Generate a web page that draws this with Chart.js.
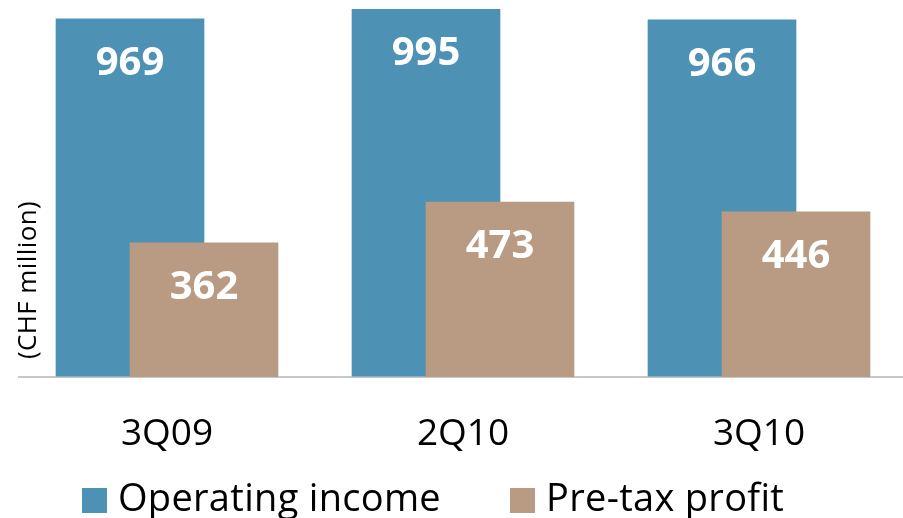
<!DOCTYPE html>
<html>
<head>
<meta charset="utf-8">
<script src="https://cdn.jsdelivr.net/npm/chart.js@4/dist/chart.umd.min.js"></script>
<style>
  html, body { margin: 0; padding: 0; background: #fff; overflow: hidden; }
  #wrap { width: 907px; height: 518px; }
</style>
</head>
<body>
<div id="wrap"><canvas id="chart"></canvas></div>
<script>
const quarters = ["3Q09", "2Q10", "3Q10"];
const operatingIncome = [969, 995, 966];
const pretaxProfit = [362, 473, 446];
const seriesNames = ["Operating income", "Pre-tax profit"];
const seriesColors = ["#4d91b5", "#b89b82"];
const unitLabel = "(CHF million)";

// Chart.js draws dataset 0 last; the brown bars have to sit on top of the blue ones
const brownOnTop = {
  id: "brownOnTop",
  beforeDatasetDraw(chart, args) {
    if (args.index === 1) return false;
  },
  afterDatasetDraw(chart, args) {
    if (args.index === 0) chart.getDatasetMeta(1).controller.draw();
  }
};

// white value inside the top of each bar
const barValues = {
  id: "barValues",
  afterDatasetsDraw(chart) {
    const ctx = chart.ctx;
    ctx.save();
    ctx.font = "bold 40px 'Open Sans'";
    ctx.fillStyle = "#fff";
    ctx.textAlign = "center";
    ctx.textBaseline = "alphabetic";
    chart.data.datasets.forEach((ds, i) => {
      chart.getDatasetMeta(i).data.forEach((bar, j) => {
        ctx.fillText(String(ds.data[j]), bar.x, bar.y + 56);
      });
    });
    ctx.restore();
  }
};

// rotated unit label on the left
const unitTitle = {
  id: "unitTitle",
  afterDraw(chart) {
    const ctx = chart.ctx;
    ctx.save();
    ctx.translate(36, 280);
    ctx.rotate(-Math.PI / 2);
    ctx.font = "26px 'Open Sans'";
    ctx.letterSpacing = "0.4px";
    ctx.fillStyle = "#000";
    ctx.textAlign = "center";
    ctx.textBaseline = "alphabetic";
    ctx.fillText(unitLabel, 0, 0);
    ctx.restore();
  }
};

// legend row at the bottom
const bottomLegend = {
  id: "bottomLegend",
  afterDraw(chart) {
    const ctx = chart.ctx;
    ctx.save();
    ctx.font = "38px 'Open Sans'";
    ctx.letterSpacing = "0.3px";
    ctx.textBaseline = "alphabetic";
    ctx.textAlign = "left";
    let x = 82;
    chart.data.datasets.forEach(ds => {
      ctx.fillStyle = ds.backgroundColor;
      ctx.fillRect(x, 488, 25, 25);
      ctx.fillStyle = "#000";
      ctx.fillText(ds.label, x + 36, 511);
      x += 36 + ctx.measureText(ds.label).width + 69;
    });
    ctx.restore();
  }
};

new Chart(document.getElementById("chart"), {
  type: "bar",
  data: {
    labels: quarters,
    datasets: [
      {
        label: seriesNames[0],
        data: operatingIncome,
        backgroundColor: seriesColors[0],
        borderWidth: 0,
        categoryPercentage: 0.5,
        barPercentage: 2.0
      },
      {
        label: seriesNames[1],
        data: pretaxProfit,
        backgroundColor: seriesColors[1],
        borderWidth: 0,
        categoryPercentage: 0.5,
        barPercentage: 2.0
      }
    ]
  },
  options: {
    responsive: true,
    maintainAspectRatio: false,
    animation: false,
    layout: { padding: { left: 19, right: 0, top: 0, bottom: 25 } },
    plugins: {
      legend: { display: false },
      tooltip: { enabled: false }
    },
    scales: {
      x: {
        grid: { display: false, drawTicks: false },
        border: { display: true, color: "#c8c8c8", width: 2 },
        ticks: {
          color: "#000",
          font: { family: "'Open Sans'", size: 37 },
          padding: 36
        }
      },
      y: { display: false, min: 0, max: 1020 }
    }
  },
  plugins: [brownOnTop, barValues, unitTitle, bottomLegend]
});
</script>
</body>
</html>
